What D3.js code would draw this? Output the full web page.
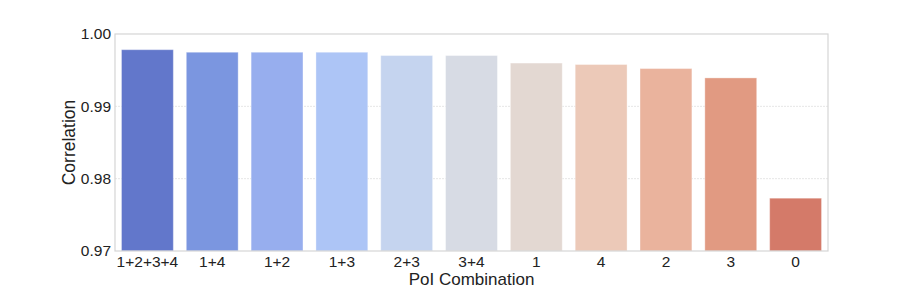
<!DOCTYPE html>
<html>
<head>
<meta charset="utf-8">
<script src="https://cdn.jsdelivr.net/npm/d3@7"></script>
<style>
  body { margin: 0; background: #fff; }
  text { font-family: "Liberation Sans", Arial, sans-serif; fill: #222; }
</style>
</head>
<body>
<script>
var combos = ["1+2+3+4", "1+4", "1+2", "1+3", "2+3", "3+4", "1", "4", "2", "3", "0"];
var correlation = [0.99783, 0.99748, 0.99748, 0.99748, 0.99702, 0.99702, 0.99598, 0.99578, 0.99522, 0.99393, 0.97730];
var yTicks = [0.97, 0.98, 0.99, 1.00];
var palette = ["#6277cb", "#7b96e0", "#97aeee", "#adc5f6", "#c5d4ef", "#d7dbe4",
               "#e3d8d2", "#ecc9b8", "#eab39d", "#e19a82", "#d47a69"];

var margin = {top: 34, right: 92, bottom: 37, left: 115};
var width = 920 - margin.left - margin.right,
    height = 288 - margin.top - margin.bottom;

var svg = d3.select("body").append("svg")
    .attr("width", 920)
    .attr("height", 288);

var g = svg.append("g")
    .attr("transform", "translate(" + margin.left + "," + margin.top + ")");

var x = d3.scaleBand()
    .domain(combos)
    .range([0, width])
    .paddingInner(0.2)
    .paddingOuter(0.1);

var y = d3.scaleLinear()
    .domain([0.97, 1.00])
    .range([height, 0]);

// grid lines
g.selectAll(".grid")
    .data(yTicks.slice(1, 3))
    .enter()
    .append("line")
    .attr("x1", 0)
    .attr("x2", width)
    .attr("y1", function (d) { return y(d); })
    .attr("y2", function (d) { return y(d); })
    .attr("stroke", "#e6e6e6")
    .attr("stroke-width", 1)
    .attr("stroke-dasharray", "2,1");

g.selectAll(".bar")
    .data(combos)
    .enter()
    .append("rect")
    .attr("class", "bar")
    .attr("x", function (d) { return x(d); })
    .attr("width", x.bandwidth())
    .attr("y", function (d, i) { return y(correlation[i]); })
    .attr("height", function (d, i) { return height - y(correlation[i]); })
    .attr("fill", function (d, i) { return palette[i]; })
    .attr("stroke", "#ffffff")
    .attr("stroke-opacity", 0.35)
    .attr("stroke-width", 1);

// frame
g.append("rect")
    .attr("x", 0)
    .attr("y", 0)
    .attr("width", width)
    .attr("height", height)
    .attr("fill", "none")
    .attr("stroke", "#d5d5d5")
    .attr("stroke-width", 1.2);

var yAxis = g.append("g")
    .call(d3.axisLeft(y).tickValues(yTicks).tickFormat(d3.format(".2f")).tickSize(0).tickPadding(4));
yAxis.select(".domain").remove();
yAxis.selectAll("text")
    .attr("font-size", "15.5px")
    .attr("font-family", "Liberation Sans, Arial, sans-serif")
    .attr("fill", "#222");

var xAxis = g.append("g")
    .attr("transform", "translate(0," + height + ")")
    .call(d3.axisBottom(x).tickSize(0).tickPadding(5));
xAxis.select(".domain").remove();
xAxis.selectAll("text")
    .attr("font-size", "15.5px")
    .attr("font-family", "Liberation Sans, Arial, sans-serif")
    .attr("fill", "#222");

svg.append("text")
    .attr("x", margin.left + width / 2)
    .attr("y", 284.5)
    .attr("text-anchor", "middle")
    .attr("font-size", "17px")
    .text("PoI Combination");

svg.append("text")
    .attr("transform", "translate(74.5," + (margin.top + height / 2) + ") rotate(-90)")
    .attr("text-anchor", "middle")
    .attr("font-size", "17.5px")
    .text("Correlation");
</script>
</body>
</html>
